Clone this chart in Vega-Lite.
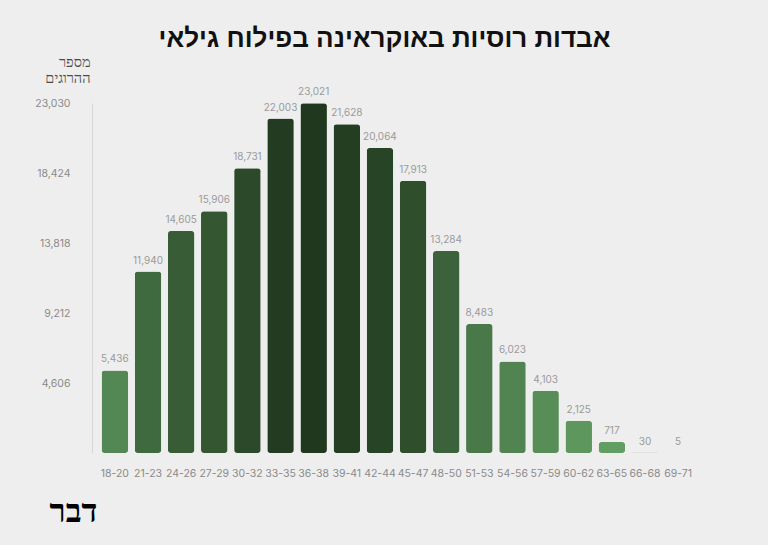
{
  "$schema": "https://vega.github.io/schema/vega-lite/v6.json",
  "width": 609,
  "height": 350,
  "autosize": {"type": "none"},
  "padding": {"left": 92, "top": 103, "right": 67, "bottom": 92},
  "background": "#eeeeee",
  "config": {"view": {"stroke": null}, "font": "Inter"},
  "title": {
    "text": "אבדות רוסיות באוקראינה בפילוח גילאי",
    "font": "Liberation Sans",
    "fontSize": 26,
    "fontWeight": 900,
    "color": "#111111",
    "anchor": "middle",
    "frame": "group",
    "offset": 0,
    "dx": -12,
    "dy": -2
  },
  "data": {
    "values": [
      {"age": "18-20", "count": 5436},
      {"age": "21-23", "count": 11940},
      {"age": "24-26", "count": 14605},
      {"age": "27-29", "count": 15906},
      {"age": "30-32", "count": 18731},
      {"age": "33-35", "count": 22003},
      {"age": "36-38", "count": 23021},
      {"age": "39-41", "count": 21628},
      {"age": "42-44", "count": 20064},
      {"age": "45-47", "count": 17913},
      {"age": "48-50", "count": 13284},
      {"age": "51-53", "count": 8483},
      {"age": "54-56", "count": 6023},
      {"age": "57-59", "count": 4103},
      {"age": "60-62", "count": 2125},
      {"age": "63-65", "count": 717},
      {"age": "66-68", "count": 30},
      {"age": "69-71", "count": 5}
    ]
  },
  "encoding": {
    "x": {
      "field": "age",
      "type": "nominal",
      "sort": null,
      "scale": {"paddingInner": 0.2, "paddingOuter": 0.29},
      "axis": {
        "labelAngle": 0,
        "domain": false,
        "ticks": false,
        "labelPadding": 15,
        "labelFontSize": 10.5,
        "labelColor": "#8a8a8a",
        "title": "דבר",
        "titleFont": "Liberation Serif",
        "titleFontSize": 33,
        "titleFontWeight": 900,
        "titleColor": "#000000",
        "titleX": -19,
        "titleY": 75,
        "titleAlign": "center",
        "titleBaseline": "bottom"
      }
    },
    "y": {
      "field": "count",
      "type": "quantitative",
      "scale": {"domain": [0, 23030], "nice": false},
      "axis": {
        "values": [4606, 9212, 13818, 18424, 23030],
        "format": ",d",
        "grid": false,
        "ticks": false,
        "domain": true,
        "domainColor": "#d6d6d6",
        "labelPadding": 22,
        "labelFontSize": 10.5,
        "labelColor": "#8a8a8a",
        "title": ["מספר", "ההרוגים"],
        "titleAngle": 0,
        "titleAlign": "right",
        "titleBaseline": "bottom",
        "titleX": -2,
        "titleY": -34,
        "titleFontSize": 14.5,
        "titleFontWeight": "normal",
        "titleColor": "#4a4a4a",
        "titleLineHeight": 16
      }
    }
  },
  "layer": [
    {
      "mark": {"type": "bar", "cornerRadius": 3},
      "encoding": {
        "color": {
          "field": "count",
          "type": "quantitative",
          "scale": {"domain": [0, 23021], "range": ["#63a265", "#20381e"]},
          "legend": null
        }
      }
    },
    {
      "mark": {"type": "text", "baseline": "bottom", "dy": -6, "fontSize": 10, "color": "#9a9a9a"},
      "encoding": {
        "text": {"field": "count", "type": "quantitative", "format": ",d"}
      }
    }
  ]
}
